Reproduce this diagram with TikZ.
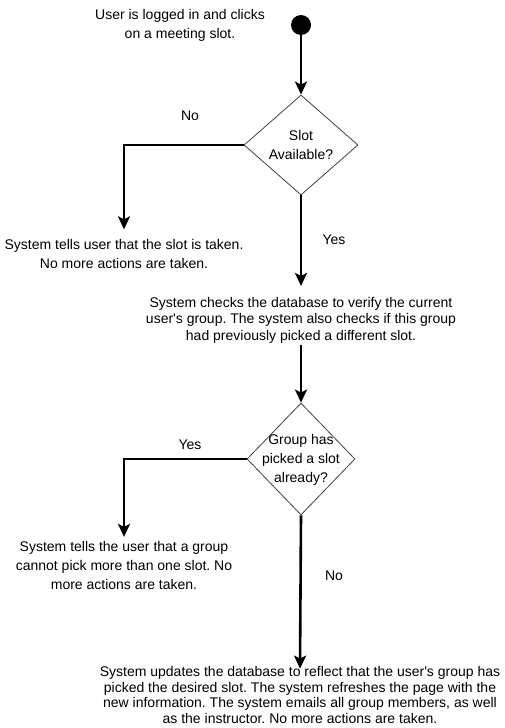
\documentclass[tikz,border=0pt]{standalone}
\usepackage{fontspec}
\setmainfont{Liberation Sans}
\usetikzlibrary{arrows.meta}
\usetikzlibrary{shapes.geometric}
\frenchspacing

\tikzset{
  flow/.style={line width=2.6pt, -{Stealth[length=13pt,width=12pt,inset=3pt]}},
  decision/.style={diamond, draw=black!75, line width=0.8pt, inner sep=0pt},
  note/.style={align=center, inner sep=0pt, outer sep=0pt},
  tall/.style={font=\fontsize{14}{19}\selectfont},
  tight/.style={font=\fontsize{14}{16.5}\selectfont}
}

\begin{document}
\begin{tikzpicture}[x=1pt,y=-1pt]
  \useasboundingbox (0,0) rectangle (504,728);

  % Start
  \node[circle, fill=black, inner sep=0pt, minimum size=20pt] (start) at (301,25) {};
  \node[note, tall] (intro) at (180,25) {User is logged in and clicks\\on a meeting slot.};

  % First decision
  \node[decision, minimum width=114pt, minimum height=100pt] (avail) at (301,145) {};
  \node[note, tall] (availtxt) at (301,145) {Slot\\Available?};

  % Slot taken
  \node[note, tall] (taken) at (124,254) {System tells user that the slot is taken.\\No more actions are taken.};

  % Check group
  \node[note, tight] (check) at (301,320) {System checks the database to verify the current\\user\textquotesingle s group. The system also checks if this group\\had previously picked a different slot.};

  % Second decision
  \node[decision, minimum width=108pt, minimum height=112pt] (picked) at (301,459) {};
  \node[note, tall] (pickedtxt) at (301,460) {Group has\\picked a slot\\already?};

  % Only one slot
  \node[note, tall] (onlyone) at (124,565) {System tells the user that a group\\cannot pick more than one slot. No\\more actions are taken.};

  % Update
  \node[note, font=\fontsize{14}{15.5}\selectfont] (update) at (300,695) {System updates the database to reflect that the user\textquotesingle s group has\\picked the desired slot. The system refreshes the page with the\\new information. The system emails all group members, as well\\as the instructor. No more actions are taken.};

  % Connectors
  \draw[flow, shorten >=0pt] (start.south) -- (avail.north);
  \draw[flow, shorten >=10pt] (avail.west) -| (taken.north);
  \draw[flow, shorten >=11pt] (avail.south) -- (check.north);
  \draw[flow, shorten <=2pt] (check.south) -- (picked.north);
  \draw[flow, shorten >=4pt] (picked.west) -| (onlyone.north);
  \draw[flow, shorten >=-2pt] (picked.south) -- (update.north);

  % Branch labels
  \node[note, font=\fontsize{14}{16}\selectfont] (availno) at (190,116) {No};
  \node[note, font=\fontsize{14}{16}\selectfont] (availyes) at (334,240) {Yes};
  \node[note, font=\fontsize{14}{16}\selectfont] (pickedyes) at (190,445) {Yes};
  \node[note, font=\fontsize{14}{16}\selectfont] (pickedno) at (334,576) {No};
\end{tikzpicture}
\end{document}
